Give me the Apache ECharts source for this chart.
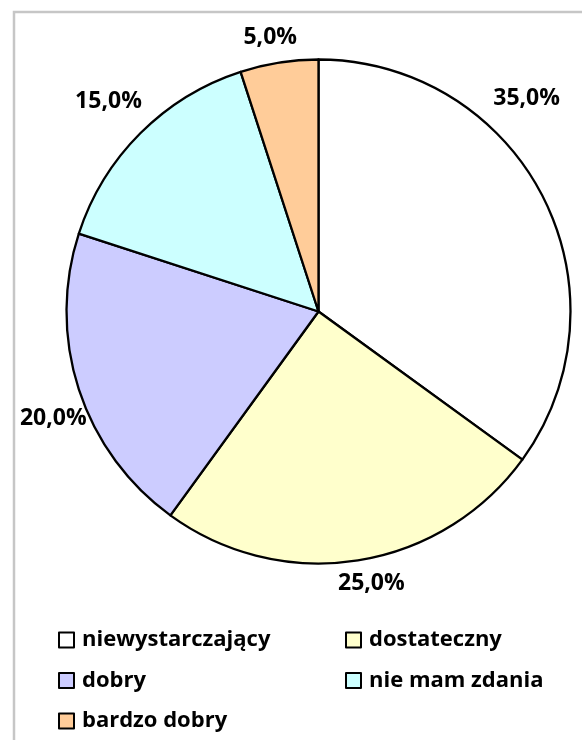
<!DOCTYPE html>
<html><head><meta charset="utf-8">
<script src="https://cdn.jsdelivr.net/npm/echarts@6/dist/echarts.min.js"></script>
<style>html,body{margin:0;padding:0;background:#fff}#c{width:582px;height:740px}</style>
</head><body><div id="c"></div>
<script>
var categories = ['niewystarczający', 'dostateczny', 'dobry', 'nie mam zdania', 'bardzo dobry'];
var values = [35.0, 25.0, 20.0, 15.0, 5.0];
var colors = ['#FFFFFF', '#FFFFCC', '#CCCCFF', '#CCFFFF', '#FFCC99'];

var CX = 318.5, CY = 311.5, R = 252;
// label placement (angle nudge in degrees, distance from center in px)
var labelNudge = [18.7, 2, 4, 0, 1];
var labelDist = [298, 277, 286, 297, 278];

var total = values.reduce(function(a, b){ return a + b; }, 0);
var mids = [], acc = 0;
values.forEach(function(v){ mids.push(90 - (acc + v / 2) / total * 360); acc += v; });

var FONT = 'Open Sans';
var legendText = {fontFamily: FONT, fontWeight: 'bold', fontSize: 22, color: '#000', lineHeight: 24, padding: [0, 0, 0, 3]};
var chart = echarts.init(document.getElementById('c'), null, {renderer: 'canvas'});
chart.setOption({
  animation: false,
  backgroundColor: '#fff',
  graphic: [{
    type: 'polyline', silent: true,
    shape: {points: [[14, 740], [14, 12], [582, 12]]},
    style: {stroke: '#c6c6c6', lineWidth: 2.5, fill: null}
  }],
  legend: [{
    data: [categories[0], categories[2], categories[4]],
    orient: 'vertical', left: 58, top: 628, height: 112, padding: 0,
    itemWidth: 15, itemHeight: 15, itemGap: 16.5, icon: 'rect',
    itemStyle: {borderColor: '#000', borderWidth: 2},
    textStyle: legendText
  }, {
    data: [categories[1], categories[3]],
    orient: 'vertical', left: 345, top: 628, height: 112, padding: 0,
    itemWidth: 15, itemHeight: 15, itemGap: 16.5, icon: 'rect',
    itemStyle: {borderColor: '#000', borderWidth: 2},
    textStyle: legendText
  }],
  series: [{
    type: 'pie',
    center: [CX, CY], radius: R,
    startAngle: 90, clockwise: true,
    avoidLabelOverlap: false,
    itemStyle: {borderColor: '#000', borderWidth: 2.3},
    emphasis: {disabled: true},
    label: {
      show: true, position: 'outside',
      formatter: function(p){ return p.value.toFixed(1).replace('.', ',') + '%'; },
      fontFamily: FONT, fontWeight: 'bold', fontSize: 23, color: '#000'
    },
    labelLine: {show: false},
    labelLayout: function(p){
      var i = p.dataIndex;
      var a = (mids[i] + labelNudge[i]) * Math.PI / 180;
      return {x: CX + labelDist[i] * Math.cos(a), y: CY - labelDist[i] * Math.sin(a), align: 'center', verticalAlign: 'middle'};
    },
    data: categories.map(function(n, i){ return {name: n, value: values[i], itemStyle: {color: colors[i]}}; })
  }]
});
</script></body></html>
